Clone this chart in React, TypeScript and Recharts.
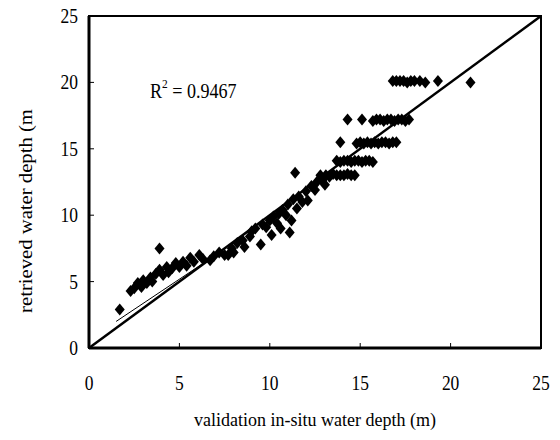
import React from 'react';
import { ScatterChart, Scatter, XAxis, YAxis, ReferenceLine, ReferenceArea } from 'recharts';

// in-situ depth (x) vs retrieved depth (y)
const shallowPoints: [number, number][] = [
  [1.7, 2.9], [2.3, 4.3], [2.5, 4.5], [2.7, 4.9], [2.9, 4.6], [3.0, 5.1], [3.2, 4.9],
  [3.4, 5.3], [3.5, 5.0], [3.7, 5.6], [3.9, 5.9], [3.9, 7.5], [4.1, 5.5], [4.3, 6.1],
  [4.4, 5.7], [4.6, 6.0], [4.8, 6.4], [5.0, 6.1], [5.2, 6.5], [5.4, 6.2], [5.6, 6.8],
  [5.8, 6.5], [6.1, 7.0], [6.3, 6.7], [6.7, 6.6], [6.9, 6.9], [7.2, 7.2], [7.5, 7.0],
  [7.7, 7.0], [7.9, 7.5],
];

const midPoints: [number, number][] = [
  [8.0, 7.2], [8.2, 7.9], [8.5, 8.1], [8.6, 7.6], [8.9, 8.4], [9.0, 8.8], [9.2, 9.0],
  [9.5, 7.8], [9.6, 9.3], [9.8, 9.1], [10.0, 9.6], [10.1, 8.5], [10.2, 9.9], [10.4, 9.4],
  [10.5, 10.1], [10.6, 9.0], [10.7, 10.4], [10.9, 10.0], [11.0, 10.8], [11.1, 8.7],
  [11.2, 9.6], [11.3, 11.2], [11.4, 13.2], [11.5, 10.5], [11.6, 11.4], [11.8, 11.0],
  [12.0, 11.8], [12.1, 11.1], [12.3, 12.2], [12.5, 11.9], [12.6, 12.5], [12.9, 12.6],
  [13.05, 12.3],
];

const band13: [number, number][] = [
  [12.8, 13.0], [13.1, 13.0], [13.3, 12.9], [13.5, 13.1], [13.7, 13.0], [13.9, 13.0],
  [14.1, 13.0], [14.3, 13.1], [14.5, 13.0], [14.7, 13.0],
];

const band14: [number, number][] = [
  [13.7, 14.1], [13.9, 14.0], [14.1, 14.1], [14.3, 14.1], [14.5, 14.0], [14.7, 14.1],
  [14.9, 14.1], [15.1, 14.0], [15.3, 14.1], [15.5, 14.1], [15.7, 14.0],
];

const band15: [number, number][] = [
  [13.9, 15.5], [14.8, 15.4], [15.0, 15.5], [15.2, 15.4], [15.4, 15.5], [15.6, 15.4],
  [15.8, 15.5], [16.0, 15.4], [16.2, 15.5], [16.4, 15.5], [16.6, 15.4], [16.8, 15.5],
  [17.0, 15.5],
];

const band17: [number, number][] = [
  [14.3, 17.2], [15.1, 17.2], [15.7, 17.1], [15.9, 17.2], [16.1, 17.2], [16.3, 17.1],
  [16.5, 17.2], [16.7, 17.2], [16.9, 17.1], [17.1, 17.2], [17.3, 17.2], [17.5, 17.1],
  [17.7, 17.2],
];

const band20: [number, number][] = [
  [16.8, 20.1], [17.0, 20.1], [17.2, 20.1], [17.4, 20.1], [17.6, 20.0], [17.8, 20.1],
  [18.0, 20.1], [18.3, 20.1], [18.6, 20.0], [19.3, 20.1], [21.1, 20.0],
];

const ticks = [0, 5, 10, 15, 20, 25];
const r2Label = '0.9467';

const data = [...shallowPoints, ...midPoints, ...band13, ...band14, ...band15, ...band17, ...band20]
  .map(([x, y]) => ({ x, y }));

const FONT = '"Liberation Serif", "DejaVu Serif", serif';

const Diamond = (props: any) => {
  const { cx, cy } = props;
  const rx = 5;
  const ry = 6;
  return <polygon points={`${cx},${cy - ry} ${cx + rx},${cy} ${cx},${cy + ry} ${cx - rx},${cy}`} fill="#000" />;
};

// the original's type looks squeezed sideways, so the digits get a slight stretch
const XTick = (props: any) => {
  const { x, y, payload } = props;
  return (
    <g>
      <line x1={x} y1={y} x2={x} y2={y - 5} stroke="#000" strokeWidth={1} />
      <text transform={`translate(${x},${y + 42}) scale(0.92,1.15)`} textAnchor="middle" fontFamily={FONT} fontSize={19} fill="#000">{payload.value}</text>
    </g>
  );
};

const YTick = (props: any) => {
  const { x, y, payload } = props;
  return (
    <g>
      <line x1={x} y1={y} x2={x + 5} y2={y} stroke="#000" strokeWidth={1} />
      <text transform={`translate(${x - 11},${y + 7}) scale(0.92,1.15)`} textAnchor="end" fontFamily={FONT} fontSize={19} fill="#000">{payload.value}</text>
    </g>
  );
};

export default function App() {
  return (
    <div style={{ position: 'absolute', left: 0, top: 0, width: 560, height: 440, background: '#fff' }}>
      <ScatterChart width={560} height={440} margin={{ top: 16, right: 19, left: 0, bottom: 0 }}>
        <XAxis
          type="number"
          dataKey="x"
          domain={[0, 25]}
          ticks={ticks}
          height={92}
          tickSize={0}
          tickMargin={0}
          tickLine={false}
          axisLine={{ stroke: '#000', strokeWidth: 3 }}
          tick={<XTick />}
          label={{ value: 'validation in-situ water depth (m)', position: 'insideBottom', offset: 14, fontFamily: FONT, fontSize: 18, fill: '#000' }}
        />
        <YAxis
          type="number"
          dataKey="y"
          domain={[0, 25]}
          ticks={ticks}
          width={89}
          tickSize={0}
          tickMargin={0}
          tickLine={false}
          axisLine={{ stroke: '#000', strokeWidth: 3 }}
          tick={<YTick />}
        />
        <ReferenceArea x1={0} x2={25} y1={0} y2={25} fill="none" stroke="#000" strokeWidth={2} ifOverflow="visible" />
        <ReferenceLine segment={[{ x: 1.5, y: 2.0 }, { x: 7, y: 7 }]} stroke="#000" strokeWidth={1} ifOverflow="visible" />
        <ReferenceLine segment={[{ x: 0, y: 0 }, { x: 25, y: 25 }]} stroke="#000" strokeWidth={2.5} ifOverflow="visible" />
        <Scatter data={data} shape={<Diamond />} isAnimationActive={false} />
        <text transform="translate(32,211) rotate(-90) scale(1.15,1)" textAnchor="middle" fontFamily={FONT} fontSize={18} fill="#000">
          retrieved water depth (m
        </text>
        <text transform="translate(150,98) scale(0.95,1.1)" fontFamily={FONT} fontSize={19} fill="#000">
          R<tspan fontSize={12} dy={-9}>2</tspan><tspan dy={9}> = {r2Label}</tspan>
        </text>
      </ScatterChart>
    </div>
  );
}
